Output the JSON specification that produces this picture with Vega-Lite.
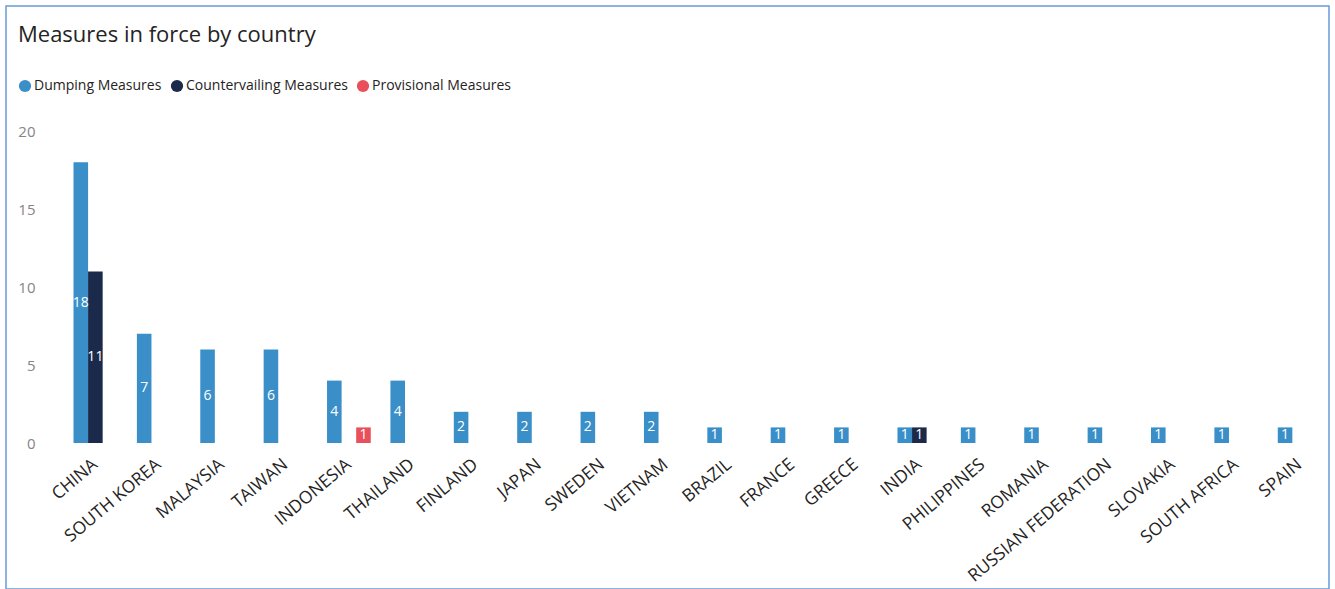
{
  "$schema": "https://vega.github.io/schema/vega-lite/v6.json",
  "autosize": "none",
  "width": 1323,
  "height": 583,
  "padding": {"left": 6, "top": 6, "right": 6, "bottom": 0},
  "background": "white",
  "title": {
    "text": "Measures in force by country",
    "anchor": "start",
    "frame": "group",
    "dx": 12,
    "offset": -58,
    "baseline": "alphabetic",
    "font": "Open Sans",
    "fontSize": 22,
    "fontWeight": "normal",
    "color": "#252423"
  },
  "data": {
    "values": [
      {"country": "CHINA", "measure": "Dumping Measures", "value": 18},
      {"country": "CHINA", "measure": "Countervailing Measures", "value": 11},
      {"country": "SOUTH KOREA", "measure": "Dumping Measures", "value": 7},
      {"country": "MALAYSIA", "measure": "Dumping Measures", "value": 6},
      {"country": "TAIWAN", "measure": "Dumping Measures", "value": 6},
      {"country": "INDONESIA", "measure": "Dumping Measures", "value": 4},
      {"country": "INDONESIA", "measure": "Provisional Measures", "value": 1},
      {"country": "THAILAND", "measure": "Dumping Measures", "value": 4},
      {"country": "FINLAND", "measure": "Dumping Measures", "value": 2},
      {"country": "JAPAN", "measure": "Dumping Measures", "value": 2},
      {"country": "SWEDEN", "measure": "Dumping Measures", "value": 2},
      {"country": "VIETNAM", "measure": "Dumping Measures", "value": 2},
      {"country": "BRAZIL", "measure": "Dumping Measures", "value": 1},
      {"country": "FRANCE", "measure": "Dumping Measures", "value": 1},
      {"country": "GREECE", "measure": "Dumping Measures", "value": 1},
      {"country": "INDIA", "measure": "Dumping Measures", "value": 1},
      {"country": "INDIA", "measure": "Countervailing Measures", "value": 1},
      {"country": "PHILIPPINES", "measure": "Dumping Measures", "value": 1},
      {"country": "ROMANIA", "measure": "Dumping Measures", "value": 1},
      {"country": "RUSSIAN FEDERATION", "measure": "Dumping Measures", "value": 1},
      {"country": "SLOVAKIA", "measure": "Dumping Measures", "value": 1},
      {"country": "SOUTH AFRICA", "measure": "Dumping Measures", "value": 1},
      {"country": "SPAIN", "measure": "Dumping Measures", "value": 1}
    ]
  },
  "encoding": {
    "x": {
      "field": "country",
      "type": "nominal",
      "sort": null,
      "title": null,
      "scale": {"paddingInner": 0.31, "paddingOuter": 0.5917, "align": 0.9},
      "axis": {
        "offset": -127,
        "labelAngle": -40,
        "labelAlign": "right",
        "labelBaseline": "middle",
        "labelFont": "Open Sans",
        "labelFontSize": 17.5,
        "labelColor": "#252423",
        "labelPadding": 0,
        "labelLimit": 0,
        "domain": false,
        "ticks": false,
        "labelOverlap": false
      }
    },
    "xOffset": {
      "field": "measure",
      "type": "nominal",
      "scale": {
        "domain": ["Dumping Measures", "Countervailing Measures", "Provisional Measures"],
        "paddingInner": 0,
        "paddingOuter": 0
      }
    }
  },
  "layer": [
    {
      "mark": {"type": "bar"},
      "encoding": {
        "y": {
          "field": "value",
          "type": "quantitative",
          "title": null,
          "scale": {"domain": [-9.359, 28.013], "nice": false, "zero": false},
          "axis": {
            "values": [0, 5, 10, 15, 20],
            "offset": -29,
            "grid": false,
            "domain": false,
            "ticks": false,
            "labelFont": "Open Sans",
            "labelFontSize": 15,
            "labelColor": "#858585",
            "labelPadding": 0
          }
        },
        "color": {
          "field": "measure",
          "type": "nominal",
          "scale": {
            "domain": ["Dumping Measures", "Countervailing Measures", "Provisional Measures"],
            "range": ["#3a8fc8", "#1b2a4a", "#e8505b"]
          },
          "legend": {
            "title": null,
            "orient": "none",
            "legendX": 12,
            "legendY": 73,
            "direction": "horizontal",
            "symbolType": "circle",
            "symbolSize": 150,
            "symbolStrokeWidth": 0,
            "labelFont": "Open Sans",
            "labelFontSize": 14,
            "labelColor": "#252423",
            "labelLimit": 0,
            "columnPadding": 8,
            "labelOffset": 2
          }
        }
      }
    },
    {
      "mark": {"type": "text", "color": "white", "font": "Open Sans", "fontSize": 14, "baseline": "middle"},
      "encoding": {
        "y": {
          "field": "value",
          "type": "quantitative",
          "scale": {"domain": [-18.718, 56.026], "nice": false, "zero": false},
          "axis": null
        },
        "text": {"field": "value", "type": "quantitative"}
      }
    }
  ],
  "resolve": {"scale": {"y": "independent"}},
  "config": {"view": {"stroke": "#6a9bd8", "strokeWidth": 1.5}}
}
